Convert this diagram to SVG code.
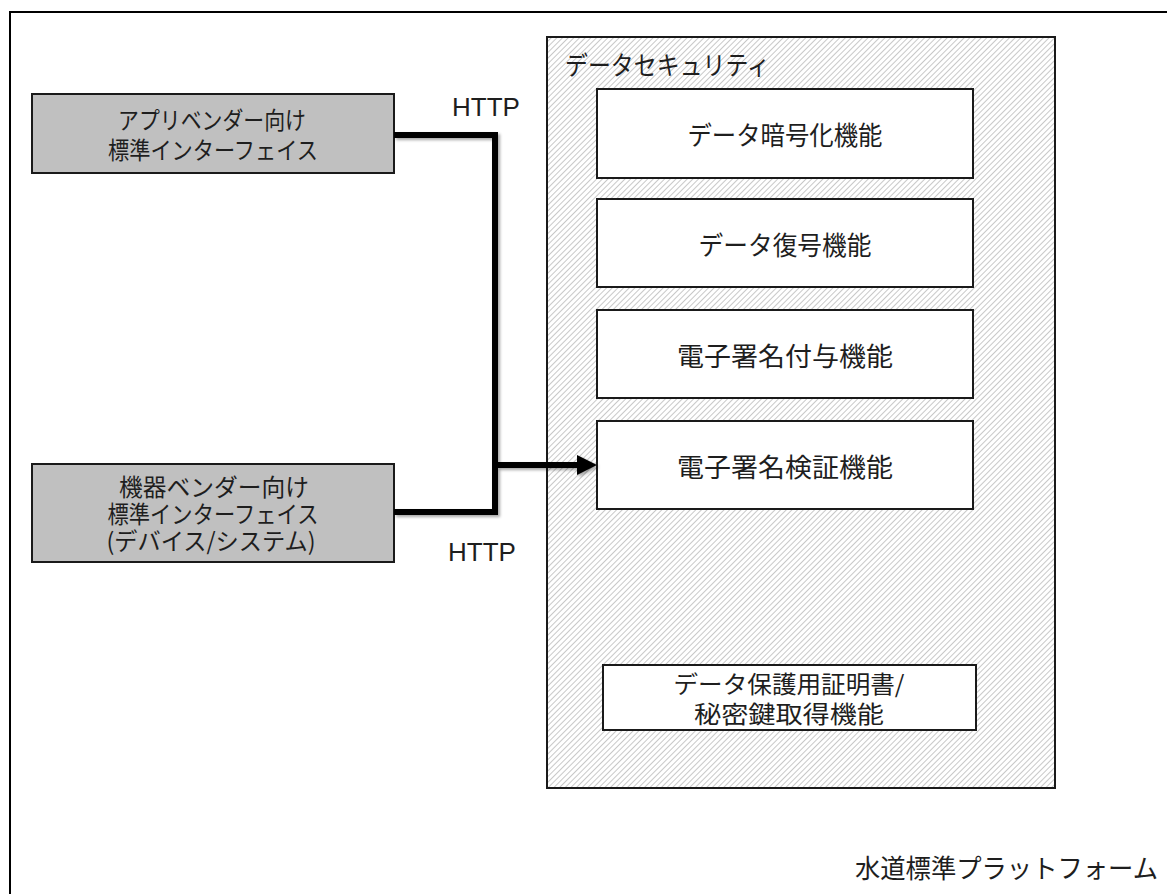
<svg xmlns="http://www.w3.org/2000/svg" width="1167" height="894" viewBox="0 0 1167 894">
  <defs>
    <pattern id="hatch" patternUnits="userSpaceOnUse" width="4" height="4" patternTransform="rotate(45)">
      <rect width="4" height="4" fill="#ffffff"/>
      <line x1="0" y1="0" x2="0" y2="4" stroke="#a4a4a4" stroke-width="1.2"/>
    </pattern>
    <filter id="shadow" x="-20%" y="-20%" width="140%" height="140%">
      <feDropShadow dx="2" dy="2" stdDeviation="1.5" flood-color="#000" flood-opacity="0.35"/>
    </filter>
    <marker id="arrow" markerUnits="userSpaceOnUse" markerWidth="22" markerHeight="22" refX="3" refY="10" orient="auto">
      <path d="M0,0 L20,10 L0,20 Z" fill="#000"/>
    </marker>
    <style>
      .frame { fill: none; stroke: #000; stroke-width: 2; }
      .gray { fill: #c0c0c0; stroke: #1a1a1a; stroke-width: 2; }
      .white { fill: #ffffff; stroke: #1a1a1a; stroke-width: 2; }
      .hatchbox { fill: url(#hatch); stroke: #1a1a1a; stroke-width: 2; }
      .jp { font-family: "Noto Sans CJK JP", "Noto Sans", sans-serif; font-size: 26px; fill: #1e1e1e; dominant-baseline: central; }
      .sm { font-size: 24px; }
      .mid { text-anchor: middle; }
      .lat { font-family: "Liberation Sans", Arial, sans-serif; font-size: 26px; fill: #1e1e1e; }
      .conn { fill: none; stroke: #000; stroke-width: 6; stroke-linejoin: miter; }
    </style>
  </defs>

  <rect class="frame" x="10" y="12" width="1170" height="900"/>

  <g id="container-security">
    <rect class="hatchbox" x="547" y="37" width="508" height="751"/>
    <text class="jp" x="565" y="63" textLength="205" lengthAdjust="spacingAndGlyphs">データセキュリティ</text>
  </g>

  <g id="node-encrypt">
    <rect class="white" x="597" y="89" width="376" height="89"/>
    <text class="jp mid" x="785" y="133" textLength="195" lengthAdjust="spacingAndGlyphs">データ暗号化機能</text>
  </g>
  <g id="node-decrypt">
    <rect class="white" x="597" y="199" width="376" height="88"/>
    <text class="jp mid" x="785" y="243" textLength="173" lengthAdjust="spacingAndGlyphs">データ復号機能</text>
  </g>
  <g id="node-sign">
    <rect class="white" x="597" y="310" width="376" height="88"/>
    <text class="jp mid" x="785" y="354" textLength="216" lengthAdjust="spacingAndGlyphs">電子署名付与機能</text>
  </g>
  <g id="node-verify">
    <rect class="white" x="597" y="421" width="376" height="88"/>
    <text class="jp mid" x="785" y="465" textLength="216" lengthAdjust="spacingAndGlyphs">電子署名検証機能</text>
  </g>
  <g id="node-cert">
    <rect class="white" x="603" y="665" width="373" height="65"/>
    <text class="jp sm mid" x="789" y="682" textLength="231" lengthAdjust="spacingAndGlyphs">データ保護用証明書/</text>
    <text class="jp sm mid" x="789" y="712" textLength="190" lengthAdjust="spacingAndGlyphs">秘密鍵取得機能</text>
  </g>

  <g id="node-app-if">
    <rect class="gray" x="32" y="94" width="362" height="79"/>
    <text class="jp sm mid" x="212" y="118" textLength="188" lengthAdjust="spacingAndGlyphs">アプリベンダー向け</text>
    <text class="jp sm mid" x="213" y="148" textLength="210" lengthAdjust="spacingAndGlyphs">標準インターフェイス</text>
  </g>
  <g id="node-device-if">
    <rect class="gray" x="32" y="464" width="362" height="98"/>
    <text class="jp sm mid" x="214" y="485" textLength="190" lengthAdjust="spacingAndGlyphs">機器ベンダー向け</text>
    <text class="jp sm mid" x="213" y="512" textLength="211" lengthAdjust="spacingAndGlyphs">標準インターフェイス</text>
    <text class="jp sm mid" x="211" y="539" textLength="209" lengthAdjust="spacingAndGlyphs">(デバイス/システム)</text>
  </g>

  <g id="connectors">
    <g filter="url(#shadow)">
      <path class="conn" d="M394,135 H495 V512 H394"/>
      <path class="conn" d="M495,465 H580" marker-end="url(#arrow)"/>
    </g>
    <text class="lat" x="452" y="116">HTTP</text>
    <text class="lat" x="448" y="561">HTTP</text>
  </g>

  <g id="title">
    <text class="jp" x="855" y="866" textLength="303" lengthAdjust="spacingAndGlyphs">水道標準プラットフォーム</text>
  </g>
</svg>
